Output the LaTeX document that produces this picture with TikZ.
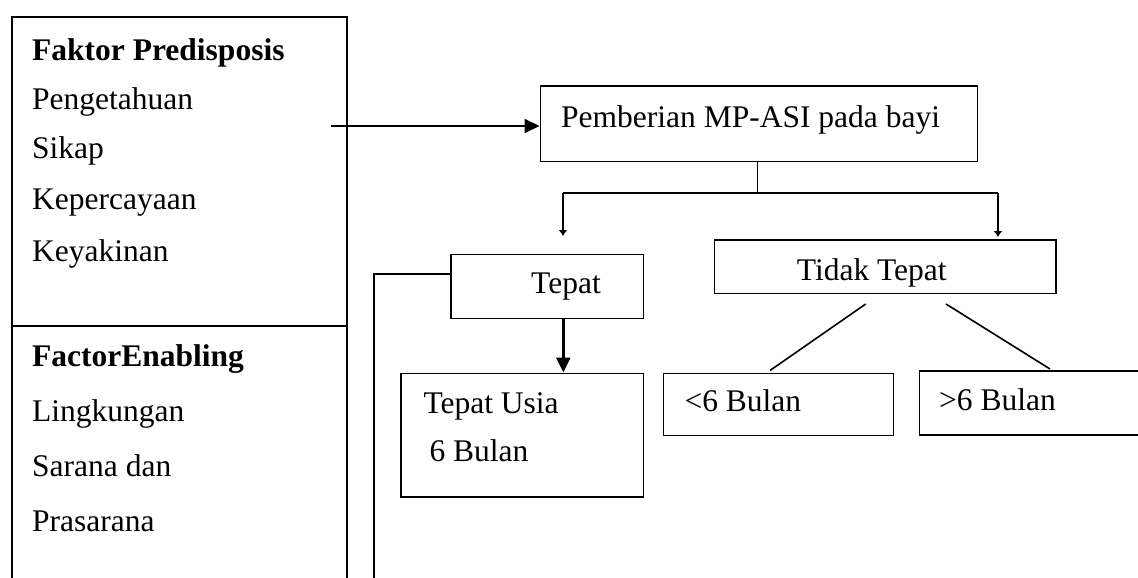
\documentclass[tikz,border=0pt]{standalone}
\usepackage{fontspec}
\setmainfont{Liberation Serif}
\usetikzlibrary{arrows.meta}
\begin{document}
\begin{tikzpicture}[x=1pt,y=-1pt,
  box/.style={draw,line width=1.9pt,inner sep=0pt,anchor=north west},
  txt/.style={anchor=base west,inner sep=0pt,font=\fontsize{31.5}{36}\selectfont},
  conn/.style={line width=1.8pt},
  bigarr/.style={line width=2pt,-{Triangle[length=15pt,width=14pt]}},
  tinyarr/.style={line width=2pt,-{Latex[length=6pt,width=9pt]}}]
\useasboundingbox (0,0) rectangle (1138,578);
\clip (0,0) rectangle (1138,578);
% left boxes
\node[box,minimum width=335pt,minimum height=309pt] (pre) at (11,16) {};
\node[box,minimum width=335pt,minimum height=320pt] (ena) at (11,325) {};
\node[txt] (t1) at (32,61) {\bfseries Faktor Predisposis};
\node[txt] (t2) at (32,110) {Pengetahuan};
\node[txt] (t3) at (32,158) {Sikap};
\node[txt] (t4) at (32,209) {Kepercayaan};
\node[txt] (t5) at (32,261) {Keyakinan};
\node[txt] (t6) at (32,366) {\bfseries FactorEnabling};
\node[txt] (t7) at (32,421) {Lingkungan};
\node[txt] (t8) at (32,476) {Sarana dan};
\node[txt] (t9) at (32,531) {Prasarana};
% right boxes
\node[box,minimum width=437pt,minimum height=75pt] (pem) at (539.5,85.5) {};
\node[txt] (pemt) at (561,127) {Pemberian MP-ASI pada bayi};
\node[box,minimum width=192.5pt,minimum height=64pt] (tep) at (450,253.5) {};
\node[txt] (tept) at (531,293) {Tepat};
\node[box,minimum width=242.5pt,minimum height=123.5pt] (usia) at (400,372.5) {};
\node[txt] (usia1) at (423.3,413.3) {Tepat Usia};
\node[txt] (usia2) at (429.3,461.7) {6 Bulan};
\node[box,minimum width=341.5pt,minimum height=53.5pt] (tid) at (713.5,239) {};
\node[txt] (tidt) at (796.7,280) {Tidak Tepat};
\node[box,minimum width=230pt,minimum height=62pt] (lt) at (662.5,372.5) {};
\node[txt] (ltt) at (684.3,411) {<6 Bulan};
\node[box,minimum width=260pt,minimum height=64pt] (gt) at (918.5,370) {};
\node[txt] (gtt) at (939,410) {>6 Bulan};
% connectors
\coordinate (a0) at (331,126);
\draw[bigarr] (a0) -- (a0 -| pem.west);
\coordinate (stem) at (757.5,193);
\draw[conn] (stem |- pem.south) -- (stem);
\coordinate (hl) at (563,193);
\coordinate (hr) at (998,193);
\draw[conn] (hl) -- (hr);
\coordinate (dl) at (563,236);
\coordinate (dr) at (998,237);
\draw[tinyarr] (hl) -- (dl);
\draw[tinyarr] (hr) -- (dr);
\coordinate (tl) at (374,274);
\draw[line width=2.8pt] (tl -| tep.west) -- (tl) -- (374,600);
\coordinate (tu) at (563.3,0);
\draw[bigarr,line width=2.5pt] (tu |- tep.south) -- (tu |- usia.north);
\coordinate (d1a) at (865.7,304);
\coordinate (d1b) at (770,370.5);
\coordinate (d2a) at (946,304);
\coordinate (d2b) at (1050,369);
\draw[conn,line width=1.6pt] (d1a) -- (d1b);
\draw[conn,line width=1.6pt] (d2a) -- (d2b);
\end{tikzpicture}
\end{document}
